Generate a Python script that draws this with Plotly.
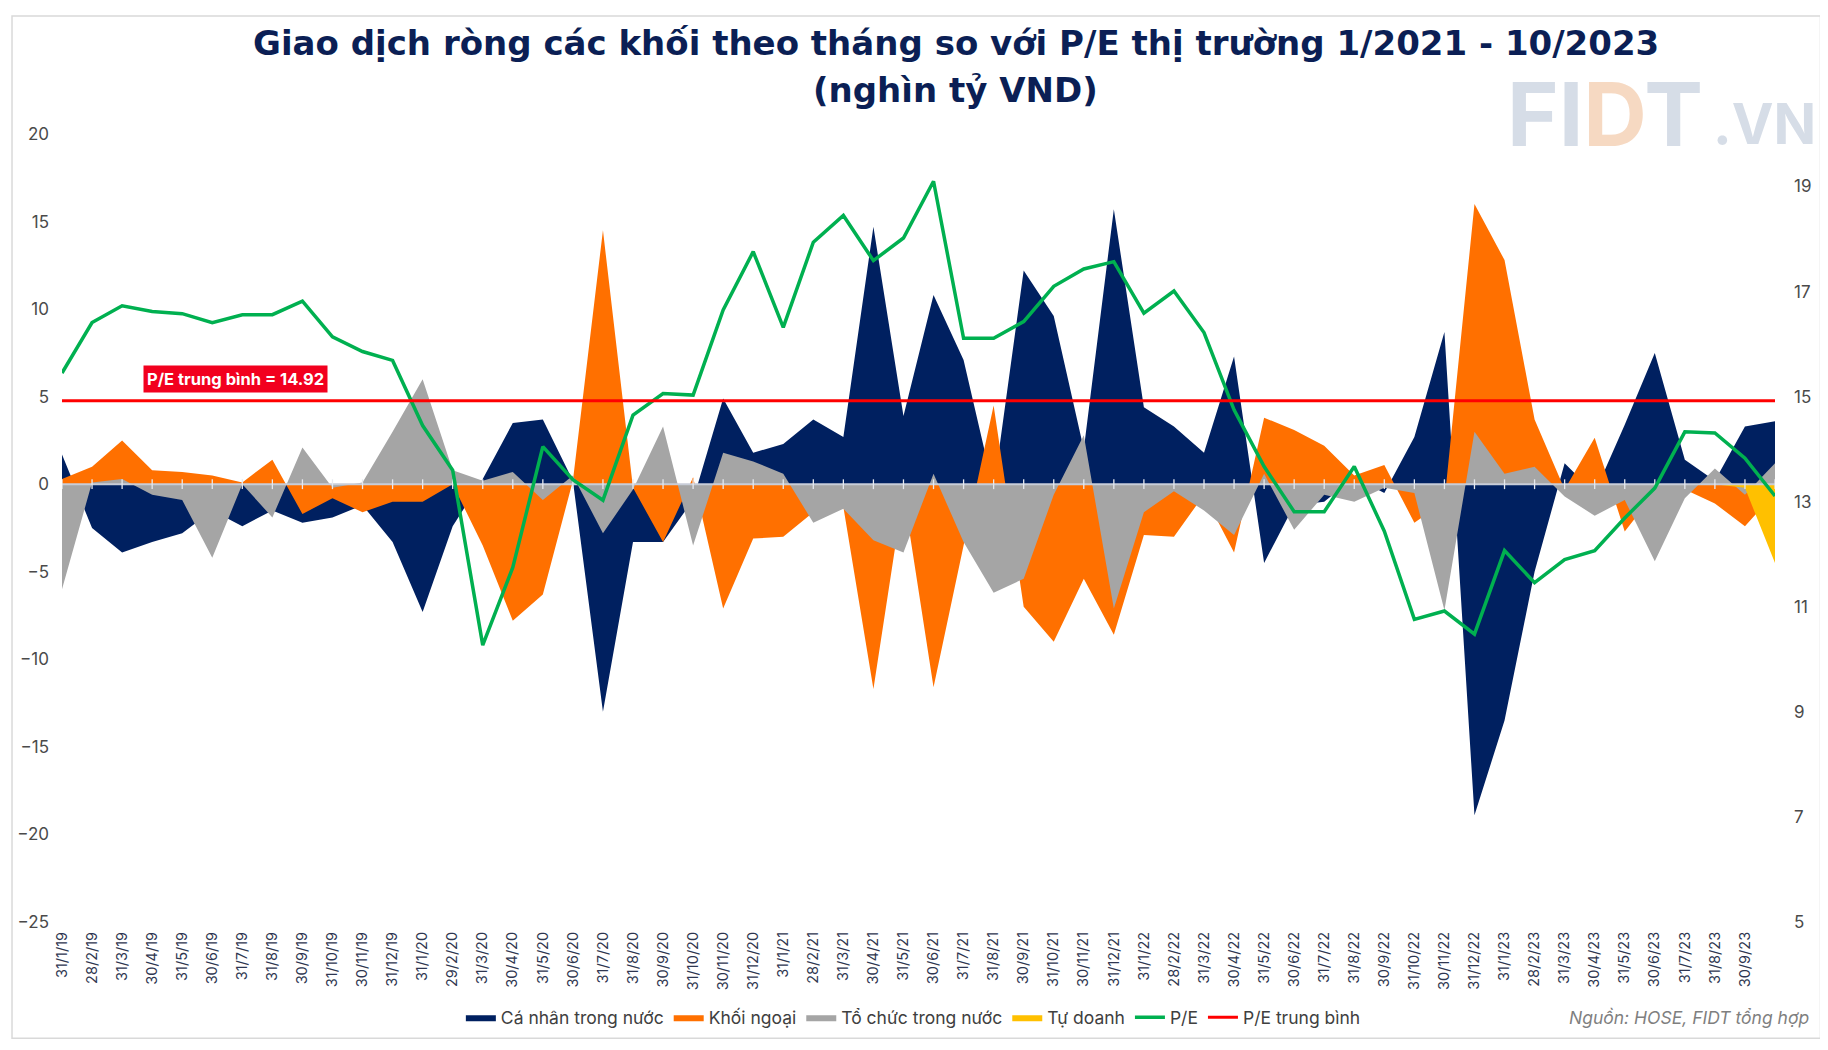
import plotly.graph_objects as go

categories = ["31/1/19","28/2/19","31/3/19","30/4/19","31/5/19","30/6/19","31/7/19","31/8/19","30/9/19","31/10/19","30/11/19","31/12/19",
"31/1/20","29/2/20","31/3/20","30/4/20","31/5/20","30/6/20","31/7/20","31/8/20","30/9/20","31/10/20","30/11/20","31/12/20",
"31/1/21","28/2/21","31/3/21","30/4/21","31/5/21","30/6/21","31/7/21","31/8/21","30/9/21","31/10/21","30/11/21","31/12/21",
"31/1/22","28/2/22","31/3/22","30/4/22","31/5/22","30/6/22","31/7/22","31/8/22","30/9/22","31/10/22","30/11/22","31/12/22",
"31/1/23","28/2/23","31/3/23","30/4/23","31/5/23","30/6/23","31/7/23","31/8/23","30/9/23","31/10/23"]

ca_nhan = [1.7, -2.5, -3.9, -3.3, -2.8, -1.5, -2.4, -1.5, -2.2, -1.9, -1.2, -3.3,
           -7.3, -2.4, 0.3, 3.5, 3.7, 0.2, -13.0, -3.3, -3.3, -0.9, 4.9, 1.8,
           2.3, 3.7, 2.7, 14.7, 3.9, 10.8, 7.1, -0.3, 12.2, 9.6, 2.0, 15.7,
           4.4, 3.3, 1.8, 7.3, -4.5, -1.2, -1.0, 0.4, -0.5, 2.7, 8.7, -18.9,
           -13.5, -5.0, 1.2, -0.5, 3.4, 7.5, 1.4, 0.2, 3.3, 3.6]

khoi_ngoai = [0.3, 1.0, 2.5, 0.8, 0.7, 0.5, 0.1, 1.4, -1.7, -0.8, -1.6, -1.0,
              -1.0, 0.0, -3.5, -7.8, -6.3, 0.2, 14.5, -0.2, -3.3, 0.4, -7.1, -3.1,
              -3.0, -1.6, -1.3, -11.7, -0.5, -11.6, -3.5, 4.5, -7.0, -9.0, -5.4, -8.6,
              -2.9, -3.0, -0.6, -3.9, 3.8, 3.1, 2.2, 0.5, 1.1, -2.2, -1.0, 16.0,
              12.8, 3.7, -0.3, 2.65, -2.7, -0.5, -0.3, -1.1, -2.4, -0.5]

to_chuc = [-6.0, 0.1, 0.3, -0.6, -0.9, -4.2, 0.0, -1.9, 2.1, -0.2, 0.1, 3.0,
           6.0, 0.8, 0.2, 0.7, -0.9, 0.5, -2.8, -0.3, 3.3, -3.5, 1.8, 1.3,
           0.6, -2.2, -1.4, -3.2, -3.9, 0.6, -3.3, -6.2, -5.4, -0.6, 2.8, -7.1,
           -1.6, -0.4, -1.5, -2.9, 0.6, -2.6, -0.6, -1.0, -0.2, -0.5, -7.2, 3.0,
           0.6, 1.0, -0.7, -1.8, -0.9, -4.4, -0.8, 0.9, -0.6, 1.2]

tu_doanh = [0.0] * 56 + [-0.2, -4.5]

pe = [15.45, 16.41, 16.73, 16.62, 16.58, 16.41, 16.56, 16.56, 16.82, 16.14, 15.86, 15.69,
      14.45, 13.6, 10.27, 11.75, 14.05, 13.42, 13.03, 14.65, 15.06, 15.03, 16.65, 17.76,
      16.32, 17.94, 18.45, 17.59, 18.02, 19.1, 16.11, 16.11, 16.43, 17.1, 17.43, 17.57,
      16.59, 17.01, 16.22, 14.75, 13.67, 12.81, 12.81, 13.67, 12.44, 10.76, 10.92, 10.48,
      12.07, 11.46, 11.9, 12.07, 12.69, 13.26, 14.33, 14.31, 13.83, 13.11]

pe_avg_value = 14.92
pe_avg = [pe_avg_value] * len(categories)

left_ticks = [-25, -20, -15, -10, -5, 0, 5, 10, 15, 20]
right_ticks = [5, 7, 9, 11, 13, 15, 17, 19]

FONT = "Inter, 'Open Sans', sans-serif"
TITLE_FONT = "'DejaVu Sans', Inter, sans-serif"
NAVY = "#002060"
ORANGE = "#FF7000"
GREY = "#A5A5A5"
YELLOW = "#FFC000"
GREEN = "#00B050"
RED = "#FF0000"

fig = go.Figure()

for name, vals, color in [("Cá nhân trong nước", ca_nhan, NAVY),
                          ("Khối ngoại", khoi_ngoai, ORANGE),
                          ("Tổ chức trong nước", to_chuc, GREY),
                          ("Tự doanh", tu_doanh, YELLOW)]:
    fig.add_trace(go.Scatter(x=categories, y=vals, name=name, mode="lines",
                             line=dict(width=0, color=color), fill="tozeroy",
                             fillcolor=color, hoverinfo="x+y"))

# zero (category) axis line with small ticks
fig.add_trace(go.Scatter(x=categories, y=[0] * len(categories), mode="lines+markers",
                         line=dict(color="#C8CDD8", width=2),
                         marker=dict(symbol="line-ns", size=7, line=dict(color="#E6E9EF", width=1.3)),
                         showlegend=False, hoverinfo="skip"))

fig.add_trace(go.Scatter(x=categories, y=pe, name="P/E", mode="lines", yaxis="y2",
                         line=dict(color=GREEN, width=3.5)))
fig.add_trace(go.Scatter(x=categories, y=pe_avg, name="P/E trung bình", mode="lines", yaxis="y2",
                         line=dict(color=RED, width=3)))

# the page body has an 8px default margin: work in screen pixels and offset
OFF = 8
W, H = 1828 - OFF, 1050 - OFF
PLOT_L, PLOT_R, PLOT_T, PLOT_B = 62, 1775.5, 134, 921.7   # screen pixels
L = PLOT_L - OFF
T = PLOT_T - OFF
R = W - (PLOT_R - OFF)
B = H - (PLOT_B - OFF)
pw, ph = PLOT_R - PLOT_L, PLOT_B - PLOT_T

def px(xs):
    return (xs - PLOT_L) / pw

def py(ys):
    return (PLOT_B - ys) / ph

fig.update_layout(
    width=W, height=H,
    margin=dict(l=L, r=R, t=T, b=B, autoexpand=False),
    paper_bgcolor="white", plot_bgcolor="white",
    font=dict(family=FONT, color="#404040"),
    showlegend=True,
    legend=dict(orientation="h", x=0.497, xanchor="center", y=py(1017), yanchor="middle",
                font=dict(size=17.5, color="#404040"), itemwidth=30, tracegroupgap=0,
                bgcolor="rgba(0,0,0,0)"),
    xaxis=dict(type="category", range=[0, len(categories) - 1],
               tickvals=categories[:-1], ticktext=categories[:-1],
               tickangle=-90, tickfont=dict(size=14.5, color="#2E3650"),
               showgrid=False, zeroline=False, showline=False, ticks="",
               ticklabelstandoff=6),
    yaxis=dict(range=[-25, 20], tickvals=left_ticks, showgrid=False, zeroline=False,
               showline=False, ticks="", tickfont=dict(size=17, color="#4A4A4A"),
               ticklabelstandoff=12),
    yaxis2=dict(range=[5, 20], tickvals=right_ticks, overlaying="y", side="right",
                showgrid=False, zeroline=False, showline=False, ticks="",
                tickfont=dict(size=17, color="#4A4A4A"), ticklabelstandoff=18),
)

annotations = [
    dict(text="<b>Giao dịch ròng các khối theo tháng so với P/E thị trường 1/2021 - 10/2023</b>",
         xref="paper", yref="paper", x=px(956), y=py(43), xanchor="center", yanchor="middle",
         showarrow=False, font=dict(size=34, color="#0B1F55", family=TITLE_FONT)),
    dict(text="<b>(nghìn tỷ VND)</b>",
         xref="paper", yref="paper", x=px(956), y=py(90), xanchor="center", yanchor="middle",
         showarrow=False, font=dict(size=34, color="#0B1F55", family=TITLE_FONT)),
    dict(text="<b>P/E trung bình = 14.92</b>", xref="paper", yref="paper",
         x=px(236), y=py(379), xanchor="center", yanchor="middle", showarrow=False,
         bgcolor="#F2001E", borderpad=3, font=dict(size=16.5, color="white", family=FONT)),
    dict(text="<i>Nguồn: HOSE, FIDT tổng hợp</i>", xref="paper", yref="paper",
         x=px(1812), y=py(1017), xanchor="right", yanchor="middle", showarrow=False,
         font=dict(size=17.5, color="#7F7F7F", family=FONT)),
    dict(text="<b>FI<span style='color:#F6D9C2'>D</span>T</b>", xref="paper", yref="paper",
         x=px(1704), y=py(114), xanchor="right", yanchor="middle", showarrow=False,
         borderpad=0, font=dict(size=88, color="#D6DDE7", family=FONT)),
    dict(text="<b>.VN</b>", xref="paper", yref="paper",
         x=px(1712), y=py(124), xanchor="left", yanchor="middle", showarrow=False,
         borderpad=0, font=dict(size=56, color="#D6DDE7", family=FONT)),
]
fig.update_layout(annotations=annotations)

fig.add_shape(type="rect", xref="paper", yref="paper",
              x0=px(12), x1=px(1821), y0=py(1038), y1=py(16),
              line=dict(color="#D9D9D9", width=1.5), fillcolor="rgba(0,0,0,0)", layer="below")

fig.write_html("out.html")
